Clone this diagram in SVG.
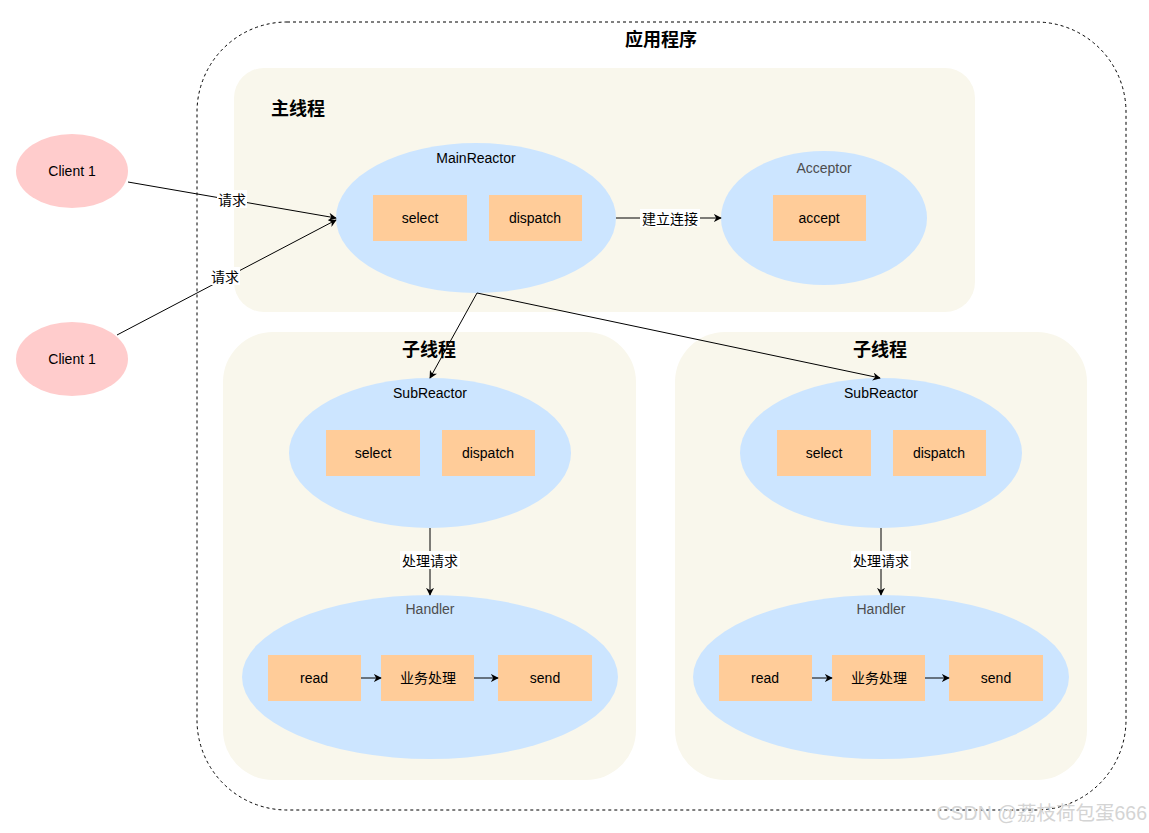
<svg xmlns="http://www.w3.org/2000/svg" width="1149" height="833" viewBox="0 0 1149 833">
<defs>
<style>
.t{font-family:"Liberation Sans","Noto Sans CJK SC",sans-serif;font-size:14px;fill:#000;text-anchor:middle;dominant-baseline:central}
.g{fill:#4d4d4d}
.h{font-family:"Noto Sans CJK SC","Liberation Sans",sans-serif;font-size:18px;font-weight:bold;fill:#000;dominant-baseline:central}
.lb{font-family:"Noto Sans CJK SC","Liberation Sans",sans-serif;font-size:14px;fill:#000;text-anchor:middle;dominant-baseline:central}
.thr{fill:#f9f7ec}
.ell{fill:#cce5ff}
.box{fill:#ffcc99}
.cli{fill:#ffcccc}
.ln{stroke:#000;stroke-width:1;fill:none;marker-end:url(#ah)}
.bg{fill:#fff}
</style>
<marker id="ah" viewBox="0 0 10 10" refX="9" refY="5" markerWidth="8" markerHeight="8" markerUnits="userSpaceOnUse" orient="auto">
<path d="M0,0 L10,5 L0,10 L3,5 Z" fill="#000"/>
</marker>
</defs>
<rect width="1149" height="833" fill="#fff"/>

<g id="app">
<rect x="197" y="22" width="929" height="788" rx="90" ry="90" fill="none" stroke="#000" stroke-width="1" stroke-dasharray="3,3"/>
<text class="h" x="661" y="38" text-anchor="middle">应用程序</text>
</g>

<g id="main-thread">
<rect class="thr" x="234" y="68" width="741" height="244" rx="30"/>
<text class="h" x="271" y="107">主线程</text>
</g>
<g id="sub-thread-1">
<rect class="thr" x="223" y="332" width="413" height="448" rx="50"/>
<text class="h" x="429" y="348" text-anchor="middle">子线程</text>
</g>
<g id="sub-thread-2">
<rect class="thr" x="675" y="332" width="412" height="448" rx="50"/>
<text class="h" x="880" y="348" text-anchor="middle">子线程</text>
</g>

<g id="client-1">
<ellipse class="cli" cx="72" cy="171" rx="56" ry="37"/>
<text class="t" x="72" y="171">Client 1</text>
</g>
<g id="client-2">
<ellipse class="cli" cx="72" cy="359" rx="56" ry="37"/>
<text class="t" x="72" y="359">Client 1</text>
</g>

<g id="main-reactor">
<ellipse class="ell" cx="476" cy="218" rx="140" ry="75"/>
<text class="t" x="476" y="158">MainReactor</text>
<rect class="box" x="373" y="195" width="94" height="46"/>
<text class="t" x="420" y="218">select</text>
<rect class="box" x="489" y="195" width="93" height="46"/>
<text class="t" x="535" y="218">dispatch</text>
</g>

<g id="acceptor">
<ellipse class="ell" cx="824" cy="218" rx="103" ry="67"/>
<text class="t g" x="824" y="168">Acceptor</text>
<rect class="box" x="773" y="195" width="93" height="46"/>
<text class="t" x="819" y="218">accept</text>
</g>

<g id="sub-reactor-1">
<ellipse class="ell" cx="430" cy="453" rx="141" ry="75"/>
<text class="t" x="430" y="393">SubReactor</text>
<rect class="box" x="326" y="430" width="94" height="46"/>
<text class="t" x="373" y="453">select</text>
<rect class="box" x="442" y="430" width="93" height="46"/>
<text class="t" x="488" y="453">dispatch</text>
</g>
<g id="sub-reactor-2">
<ellipse class="ell" cx="881" cy="453" rx="141" ry="75"/>
<text class="t" x="881" y="393">SubReactor</text>
<rect class="box" x="777" y="430" width="94" height="46"/>
<text class="t" x="824" y="453">select</text>
<rect class="box" x="893" y="430" width="93" height="46"/>
<text class="t" x="939" y="453">dispatch</text>
</g>

<g id="handler-1">
<ellipse class="ell" cx="430" cy="677" rx="188" ry="82"/>
<text class="t g" x="430" y="609">Handler</text>
<rect class="box" x="268" y="655" width="93" height="46"/>
<text class="t" x="314" y="678">read</text>
<rect class="box" x="381" y="655" width="93" height="46"/>
<text class="t" x="428" y="678">业务处理</text>
<rect class="box" x="498" y="655" width="94" height="46"/>
<text class="t" x="545" y="678">send</text>
</g>
<g id="handler-2">
<ellipse class="ell" cx="881" cy="677" rx="188" ry="82"/>
<text class="t g" x="881" y="609">Handler</text>
<rect class="box" x="719" y="655" width="93" height="46"/>
<text class="t" x="765" y="678">read</text>
<rect class="box" x="832" y="655" width="93" height="46"/>
<text class="t" x="879" y="678">业务处理</text>
<rect class="box" x="949" y="655" width="94" height="46"/>
<text class="t" x="996" y="678">send</text>
</g>

<g id="connectors">
<line class="ln" x1="128" y1="182" x2="336" y2="218"/>
<line class="ln" x1="117" y1="335" x2="336" y2="220"/>
<line class="ln" x1="616" y1="218" x2="721" y2="218"/>
<line class="ln" x1="477" y1="293" x2="430" y2="378"/>
<line class="ln" x1="477" y1="293" x2="880" y2="378"/>
<line class="ln" x1="430" y1="528" x2="430" y2="595"/>
<line class="ln" x1="881" y1="528" x2="881" y2="595"/>
<line class="ln" x1="361" y1="678" x2="381" y2="678"/>
<line class="ln" x1="474" y1="678" x2="498" y2="678"/>
<line class="ln" x1="812" y1="678" x2="832" y2="678"/>
<line class="ln" x1="925" y1="678" x2="949" y2="678"/>
<rect class="bg" x="217" y="190" width="30" height="18"/>
<text class="lb" x="232" y="199">请求</text>
<rect class="bg" x="210" y="267" width="30" height="18"/>
<text class="lb" x="225" y="276">请求</text>
<rect class="bg" x="640" y="209" width="60" height="18"/>
<text class="lb" x="670" y="218">建立连接</text>
<rect class="bg" x="400" y="551" width="60" height="18"/>
<text class="lb" x="430" y="560">处理请求</text>
<rect class="bg" x="851" y="551" width="60" height="18"/>
<text class="lb" x="881" y="560">处理请求</text>
</g>

<g id="watermark">
<text x="1147" y="813" text-anchor="end" font-family="Liberation Sans,Noto Sans CJK SC,sans-serif" font-size="19.5" fill="#d4d4d4" dominant-baseline="central">CSDN @荔枝荷包蛋666</text>
</g>
</svg>
